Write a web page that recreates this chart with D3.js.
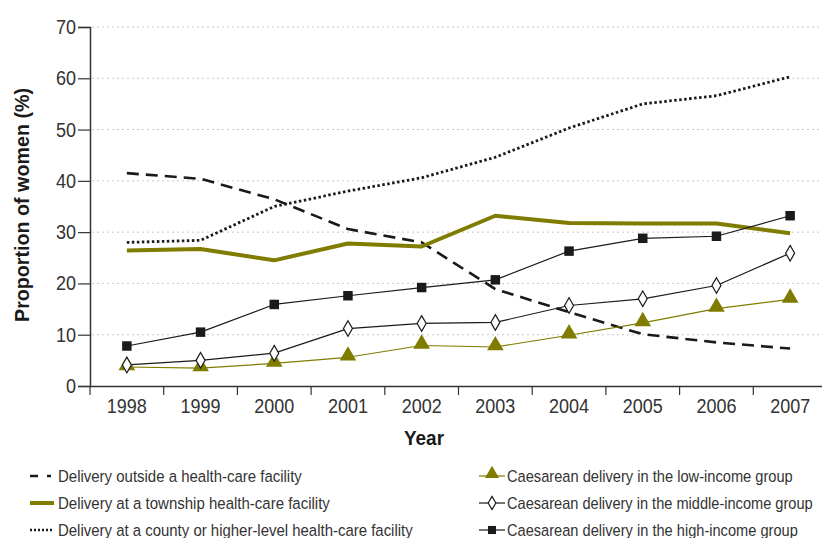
<!DOCTYPE html>
<html>
<head>
<meta charset="utf-8">
<script src="https://cdn.jsdelivr.net/npm/d3@7"></script>
<style>
  body { margin: 0; background: #fff; }
  svg { display: block; font-family: "Liberation Sans", Arial, sans-serif; }
</style>
</head>
<body>
<svg id="chart" width="822" height="538"></svg>
<script>
var years = ["1998", "1999", "2000", "2001", "2002", "2003", "2004", "2005", "2006", "2007"];
var yTicks = [0, 10, 20, 30, 40, 50, 60, 70];

var outsideFacility = [41.5, 40.4, 36.4, 30.6, 28.0, 18.9, 14.4, 10.1, 8.5, 7.3];
var township = [26.4, 26.7, 24.5, 27.8, 27.2, 33.2, 31.8, 31.7, 31.7, 29.8];
var county = [28.0, 28.4, 35.0, 38.0, 40.6, 44.6, 50.3, 55.0, 56.6, 60.3];
var lowIncome = [3.7, 3.5, 4.4, 5.6, 7.9, 7.6, 9.9, 12.3, 15.1, 16.9];
var middleIncome = [4.1, 5.0, 6.4, 11.2, 12.2, 12.4, 15.7, 17.0, 19.6, 25.9];
var highIncome = [7.8, 10.5, 15.9, 17.6, 19.2, 20.7, 26.3, 28.8, 29.2, 33.2];

var olive = "#7f7c00";
var svg = d3.select("#chart");

var x = d3.scaleBand().domain(years).range([90, 827]);
var y = d3.scaleLinear().domain([0, 70]).range([386, 27]);
function cx(d, i) { return x(years[i]) + x.bandwidth() / 2; }

// condensed look: squeeze glyphs to the width they have in the picture
function squeeze(sel, ratio) {
    sel.each(function () {
        var w = this.getComputedTextLength();
        d3.select(this).attr("textLength", w * ratio).attr("lengthAdjust", "spacingAndGlyphs");
    });
}

// grid
svg.append("g").selectAll("line")
    .data(yTicks.filter(function (d) { return d > 0; }))
    .enter().append("line")
    .attr("x1", 92).attr("x2", 822)
    .attr("y1", function (d) { return y(d); })
    .attr("y2", function (d) { return y(d); })
    .attr("stroke", "#c8c8c8")
    .attr("stroke-width", 1)
    .attr("stroke-dasharray", "2,3");

// y axis
var yAxis = svg.append("g")
    .attr("transform", "translate(90,0)")
    .call(d3.axisLeft(y).tickValues(yTicks).tickSize(12).tickPadding(2));
yAxis.select(".domain").attr("stroke", "#333").attr("stroke-width", 1.5);
yAxis.selectAll(".tick line").attr("stroke", "#333").attr("stroke-width", 1.2);
yAxis.selectAll("text").attr("font-size", 20.5).attr("fill", "#333").call(squeeze, 0.88);

// x axis
var xAxis = svg.append("g")
    .attr("transform", "translate(0,386)")
    .call(d3.axisBottom(x).tickSize(0).tickPadding(10));
xAxis.select(".domain").attr("stroke", "#333").attr("stroke-width", 1.5);
xAxis.selectAll("text").attr("font-size", 20.5).attr("fill", "#333").attr("dy", "0.85em")
    .attr("textLength", 40).attr("lengthAdjust", "spacingAndGlyphs");
svg.append("g").selectAll("line")
    .data(years)
    .enter().append("line")
    .attr("x1", function (d) { return x(d); })
    .attr("x2", function (d) { return x(d); })
    .attr("y1", 386).attr("y2", 395)
    .attr("stroke", "#333").attr("stroke-width", 1.2);

// axis titles
svg.append("text")
    .attr("transform", "translate(29,205) rotate(-90)")
    .attr("text-anchor", "middle")
    .attr("font-size", 21).attr("font-weight", "bold").attr("fill", "#1a1a1a")
    .attr("textLength", 234).attr("lengthAdjust", "spacingAndGlyphs")
    .text("Proportion of women (%)");
svg.append("text")
    .attr("x", 424).attr("y", 445)
    .attr("text-anchor", "middle")
    .attr("font-size", 21).attr("font-weight", "bold").attr("fill", "#1a1a1a")
    .attr("textLength", 40).attr("lengthAdjust", "spacingAndGlyphs")
    .text("Year");

var line = d3.line()
    .x(function (d, i) { return cx(d, i); })
    .y(function (d) { return y(d); });

function drawLine(values, color, width, dash) {
    svg.append("path")
        .datum(values)
        .attr("d", line)
        .attr("fill", "none")
        .attr("stroke", color)
        .attr("stroke-width", width)
        .attr("stroke-dasharray", dash || null)
        .attr("stroke-linejoin", "round");
}

drawLine(outsideFacility, "#1a1a1a", 2.6, "12,7");
drawLine(county, "#1a1a1a", 2.8, "2.5,2.5");
drawLine(township, olive, 4);
drawLine(lowIncome, olive, 1.2);
drawLine(middleIncome, "#1a1a1a", 1.2);
drawLine(highIncome, "#1a1a1a", 1.2);

var tri = d3.symbol().type(d3.symbolTriangle).size(120);
var dia = d3.symbol().type(d3.symbolDiamond).size(70);
var sq = d3.symbol().type(d3.symbolSquare).size(90);

svg.append("g").selectAll("path")
    .data(lowIncome).enter().append("path")
    .attr("d", tri)
    .attr("transform", function (d, i) { return "translate(" + cx(d, i) + "," + (y(d) - 1.5) + ")"; })
    .attr("fill", olive);
svg.append("g").selectAll("path")
    .data(middleIncome).enter().append("path")
    .attr("d", dia)
    .attr("transform", function (d, i) { return "translate(" + cx(d, i) + "," + y(d) + ")"; })
    .attr("fill", "#fff").attr("stroke", "#1a1a1a").attr("stroke-width", 1.2);
svg.append("g").selectAll("path")
    .data(highIncome).enter().append("path")
    .attr("d", sq)
    .attr("transform", function (d, i) { return "translate(" + cx(d, i) + "," + y(d) + ")"; })
    .attr("fill", "#1a1a1a");

// legend
var legendLeft = [
    { label: "Delivery outside a health-care facility", w: 244, color: "#1a1a1a", width: 2.6, dash: "8,9,4,20" },
    { label: "Delivery at a township health-care facility", w: 272, color: olive, width: 4, dash: null },
    { label: "Delivery at a county or higher-level health-care facility", w: 355, color: "#1a1a1a", width: 2.6, dash: "2,2" }
];
var legendRight = [
    { label: "Caesarean delivery in the low-income group", w: 286, color: olive, marker: tri, fill: olive, stroke: null },
    { label: "Caesarean delivery in the middle-income group", w: 306, color: "#1a1a1a", marker: dia, fill: "#fff", stroke: "#1a1a1a" },
    { label: "Caesarean delivery in the high-income group", w: 291, color: "#1a1a1a", marker: sq, fill: "#1a1a1a", stroke: null }
];
var rowY = [476, 503, 530];

// legend text narrowed with a horizontal scale so its box matches what is drawn
function legendText(g, x0) {
    g.append("text")
        .attr("font-size", 16.5).attr("fill", "#333")
        .attr("dy", "0.36em")
        .text(function (d) { return d.label; })
        .each(function (d) {
            var w = this.getComputedTextLength();
            d3.select(this).attr("transform", "translate(" + x0 + ",0) scale(" + (d.w / w) + ",1)");
        });
}

var lg = svg.append("g").selectAll("g")
    .data(legendLeft).enter().append("g")
    .attr("transform", function (d, i) { return "translate(0," + rowY[i] + ")"; });
lg.append("line")
    .attr("x1", 30).attr("x2", 54).attr("y1", 0).attr("y2", 0)
    .attr("stroke", function (d) { return d.color; })
    .attr("stroke-width", function (d) { return d.width; })
    .attr("stroke-dasharray", function (d) { return d.dash; });
legendText(lg, 58);

var rg = svg.append("g").selectAll("g")
    .data(legendRight).enter().append("g")
    .attr("transform", function (d, i) { return "translate(0," + rowY[i] + ")"; });
rg.append("line")
    .attr("x1", 479).attr("x2", 505).attr("y1", 0).attr("y2", 0)
    .attr("stroke", function (d) { return d.color; })
    .attr("stroke-width", 1.2);
rg.append("path")
    .attr("d", function (d) { return d.marker(); })
    .attr("transform", function (d, i) { return "translate(492," + (i === 0 ? -2 : 0) + ") scale(0.85)"; })
    .attr("fill", function (d) { return d.fill; })
    .attr("stroke", function (d) { return d.stroke; })
    .attr("stroke-width", 1.4);
legendText(rg, 507);
</script>
</body>
</html>
